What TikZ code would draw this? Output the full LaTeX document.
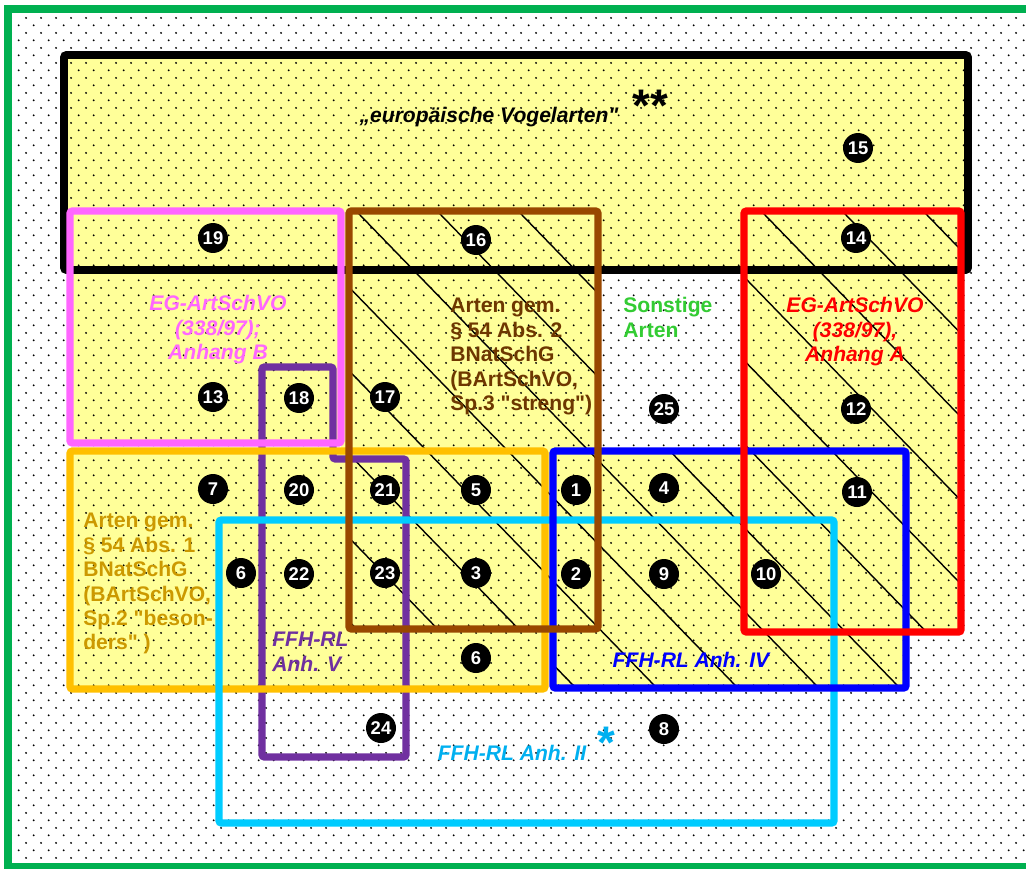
\documentclass[tikz,border=0pt]{standalone}
\usepackage{fontspec}
\setmainfont{Liberation Sans}[Ligatures=TeXOff]
\usetikzlibrary{patterns}
\usepackage{xcolor}

\definecolor{frgreen}{RGB}{0,176,80}
\definecolor{fillyel}{RGB}{255,255,153}
\definecolor{pinkb}{RGB}{255,102,255}
\definecolor{brownb}{RGB}{153,72,0}
\definecolor{browntxt}{RGB}{110,55,0}
\definecolor{orangeb}{RGB}{255,192,0}
\definecolor{orangetxt}{RGB}{204,153,0}
\definecolor{purpleb}{RGB}{112,48,160}
\definecolor{cyanb}{RGB}{0,204,255}
\definecolor{cyantxt}{RGB}{0,176,240}
\definecolor{greentxt}{RGB}{51,204,51}

\pgfdeclarepatternformonly{stagdots}{\pgfpointorigin}{\pgfpoint{8.73pt}{8.73pt}}{\pgfpoint{8.73pt}{8.73pt}}{%
  \pgfpathcircle{\pgfpoint{2.18pt}{2.18pt}}{0.6pt}%
  \pgfpathcircle{\pgfpoint{6.55pt}{6.55pt}}{0.6pt}%
  \pgfusepath{fill}}

\begin{document}
\begin{tikzpicture}[x=0.02cm,y=-0.02cm,
  box/.style={line width=4.2pt, rounded corners=1.5pt},
  num/.style={circle, fill=black, text=white, inner sep=0pt, minimum size=0.6cm, font=\fontsize{10.5}{12}\selectfont\bfseries},
  lbl/.style={inner sep=0pt, font=\fontsize{12}{13.9}\selectfont\bfseries},
  lbli/.style={inner sep=0pt, font=\fontsize{12}{13.9}\selectfont\bfseries\itshape},
  hatch/.style={line width=0.8pt}]
\useasboundingbox (0,0) rectangle (1026,868);
\fill[white] (0,0) rectangle (1026,868);

% yellow areas
\fill[fillyel] (64,55) rectangle (968,270);
\fill[fillyel] (70,211) rectangle (341,443);
\fill[fillyel] (70,451) rectangle (545,689);
\fill[fillyel] (349,211) rectangle (598,629);
\fill[fillyel] (744,211) rectangle (961,632);
\fill[fillyel] (553,451) rectangle (906,688);
\fill[fillyel] (341,211) rectangle (349,451);

% hatching
\begin{scope}
\clip (349,211) rectangle (598,629) (744,211) rectangle (961,632) (553,451) rectangle (906,688);
\foreach \k in {-9,...,8}
  \draw[hatch] ({232.45+81*\k},0) -- ({1074.4+81*\k},868);
\end{scope}

% dots
\fill[pattern=stagdots, pattern color=black] (8,9) rectangle (1030,867);

% frames
\draw[box, line width=4.5pt] (64,55) rectangle (968,270);
\draw[box, purpleb] (262,367) -- (333,367) -- (333,459) -- (406,459) -- (406,757) -- (262,757) -- cycle;
\draw[box, pinkb] (70,211) rectangle (341,443);
\draw[box, orangeb] (70,451) rectangle (545,689);
\draw[box, cyanb] (219,520) rectangle (834,823);
\draw[box, blue] (553,451) rectangle (906,688);
\draw[box, red] (744,211) rectangle (961,632);
\draw[box, brownb] (349,211) rectangle (598,629);
\draw[frgreen, line width=4.5pt] (8,9) rectangle (1060,867);

% labels
\node[lbli, anchor=base] (vogel) at (489,123) {„europäische Vogelarten"};
\node[inner sep=0pt, anchor=north, font=\fontsize{26}{26}\selectfont\bfseries] (stars) at (650,90) {**};
\node[lbli, pinkb, anchor=north, align=center] (anhB) at (218,295) {EG-ArtSchVO\\(338/97);\\Anhang B};
\node[lbl, browntxt, anchor=north west, align=left] (streng) at (450,298) {Arten gem.\\§ 54 Abs. 2\\BNatSchG\\(BArtSchVO,\\Sp.3 "streng")};
\node[lbl, greentxt, anchor=north west, align=left] (sonst) at (623,297) {Sonstige\\Arten};
\node[lbli, red, anchor=north, align=center] (anhA) at (855,297) {EG-ArtSchVO\\(338/97),\\Anhang A};
\node[lbl, orangetxt, anchor=north west, align=left] (besond) at (83,513) {Arten gem.\\§ 54 Abs. 1\\BNatSchG\\(BArtSchVO,\\Sp.2 "beson-\\ders" )};
\node[lbli, purpleb, anchor=north west, align=left] (anhV) at (272,632) {FFH-RL\\Anh. V};
\node[lbli, blue, anchor=base] (anhIV) at (691,667) {FFH-RL Anh. IV};
\node[lbli, cyantxt, anchor=base] (anhII) at (512,760) {FFH-RL Anh. II};
\node[inner sep=0pt, anchor=north, cyantxt, font=\fontsize{26}{26}\selectfont\bfseries] (star) at (606,727) {*};

% numbered circles
\foreach \nm/\t/\x/\y in {c19/19/213/238, c16/16/476/240, c15/15/858/148, c14/14/856/238,
    c13/13/213/397, c18/18/299/398, c17/17/385/397, c25/25/664/409, c12/12/856/409,
    c7/7/213/489, c20/20/299/490, c21/21/385/490, c5/5/476/490, c1/1/576/490, c4/4/664/488, c11/11/857/492,
    c6a/6/241/573, c22/22/299/574, c23/23/385/573, c3/3/476/573, c2/2/576/574, c9/9/664/574, c10/10/766/574,
    c6b/6/476/658, c24/24/381/728, c8/8/664/729} {
  \node[num] (\nm) at (\x,\y) {\t};
}
\end{tikzpicture}
\end{document}
